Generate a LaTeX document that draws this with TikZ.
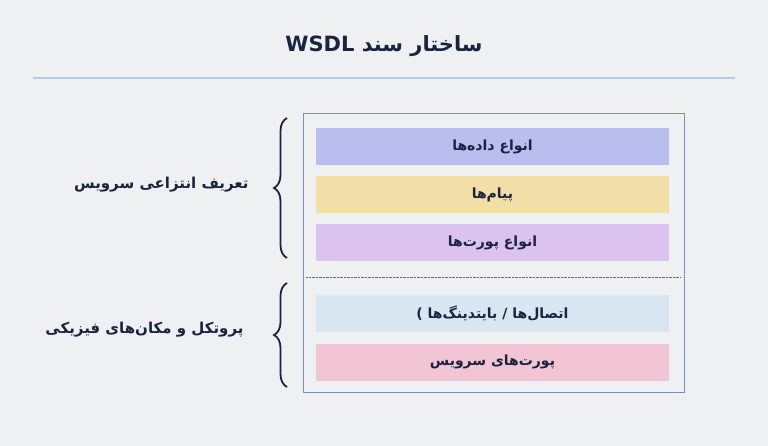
\documentclass[tikz,border=0pt]{standalone}
\usepackage{fontspec}
\usetikzlibrary{decorations.pathreplacing}
\TeXXeTstate=1
\newfontfamily\arabicfont[Script=Arabic]{DejaVu Sans}
\definecolor{bg}{HTML}{EFF0F2}
\definecolor{ink}{HTML}{1A2340}
\definecolor{frame}{HTML}{6E92C6}
\definecolor{rule}{HTML}{B8CBE6}
\definecolor{cA}{HTML}{B9BEEE}
\definecolor{cB}{HTML}{F2DFA7}
\definecolor{cC}{HTML}{DCC3EF}
\definecolor{cD}{HTML}{D8E7F1}
\definecolor{cE}{HTML}{F2C5D5}
\begin{document}
\begin{tikzpicture}[x=1pt,y=-1pt,
  layer/.style={minimum width=353pt,minimum height=37pt,inner sep=0pt,text=ink,font=\arabicfont\bfseries\fontsize{14}{16}\selectfont},
  lab/.style={text=ink,font=\arabicfont\bfseries\fontsize{15}{17}\selectfont,anchor=east},
  br/.style={draw=ink,line width=1.8pt,decorate,decoration={brace,amplitude=13pt,aspect=0.5}}]
\fill[bg] (0,0) rectangle (768,446);
\node[text=ink,font=\arabicfont\bfseries\fontsize{21}{24}\selectfont] (title) at (384,46) {\beginR ساختار سند \beginL WSDL\endL\endR};
\draw[color=rule,line width=1.2pt] (33,78) -- (735,78);
\node[draw=frame,line width=1pt,minimum width=381pt,minimum height=278pt,inner sep=0pt] (outer) at (493.5,253) {};
\node[layer,fill=cA] (a) at (492.5,147) {\beginR انواع داده‌ها\endR};
\node[layer,fill=cB] (b) at (492.5,194.5) {\beginR پیام‌ها\endR};
\node[layer,fill=cC] (c) at (492.5,243) {\beginR انواع پورت‌ها\endR};
\coordinate (d1) at (306,277); \coordinate (d2) at (681,277);
\draw[densely dotted,color=ink!70] (d1) -- (d2);
\node[layer,fill=cD] (d) at (492.5,313.5) {\beginR اتصال‌ها / بایتدینگ‌ها )\endR};
\node[layer,fill=cE] (e) at (492.5,362) {\beginR پورت‌های سرویس\endR};
\coordinate (t1) at (287,118); \coordinate (t2) at (287,258);
\coordinate (u1) at (287,283); \coordinate (u2) at (287,387);
\draw[br] (t2) -- (t1);
\draw[br] (u2) -- (u1);
\node[lab] (l1) at (252,185) {\beginR تعریف انتزاعی سرویس\endR};
\node[lab] (l2) at (247,330) {\beginR پروتکل و مکان‌های فیزیکی\endR};
\end{tikzpicture}
\end{document}
